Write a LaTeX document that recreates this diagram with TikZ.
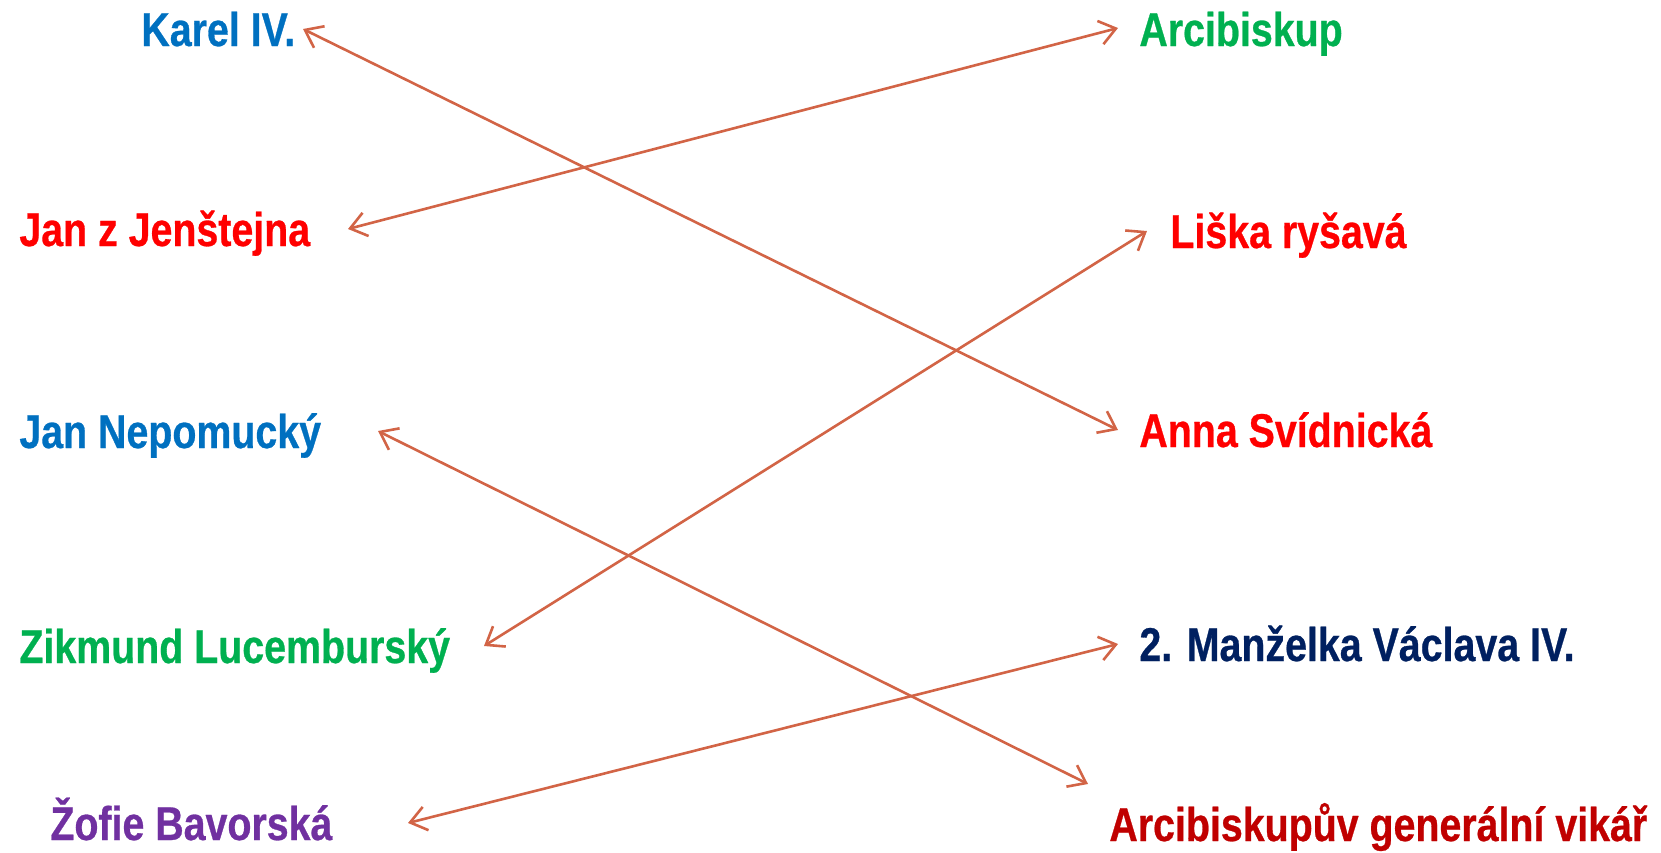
\documentclass[tikz,border=0pt]{standalone}
\usepackage{fontspec}
\setmainfont[FakeStretch=0.83,BoldFeatures={FakeBold=0.6}]{Liberation Sans}
\usetikzlibrary{arrows.meta}
\definecolor{kblue}{RGB}{0,112,192}
\definecolor{kred}{RGB}{255,0,0}
\definecolor{kgreen}{RGB}{0,176,80}
\definecolor{kpurple}{RGB}{112,48,160}
\definecolor{knavy}{RGB}{0,32,96}
\definecolor{kdarkred}{RGB}{192,0,0}
\definecolor{klink}{RGB}{210,100,70}
\begin{document}
\begin{tikzpicture}[x=0.5pt,y=-0.5pt,
    person/.style={anchor=base west,inner sep=0pt,text height=17pt,text depth=0pt,
      font=\fontsize{23.7pt}{28pt}\selectfont\bfseries},
    link/.style={draw=klink,line width=1.3pt,
      {Straight Barb[length=8pt,width=12pt]}-{Straight Barb[length=8pt,width=12pt]}}]
  \useasboundingbox (0,0) rectangle (1661,852);
      \node[person,kblue] (karel) at (141,46) {Karel IV.};
      \node[person,kred] (jenstejn) at (19,246) {Jan z Jenštejna};
      \node[person,kblue] (nepomuk) at (19,448) {Jan Nepomucký};
      \node[person,kgreen] (zikmund) at (19,663) {Zikmund Lucemburský};
      \node[person,kpurple] (zofie) at (50,840) {Žofie Bavorská};
      \node[person,kgreen] (arcibiskup) at (1139,46) {Arcibiskup};
      \node[person,kred] (liska) at (1170,248) {Liška ryšavá};
      \node[person,kred] (anna) at (1139,447) {Anna Svídnická};
      \node[person,knavy] (manzelka) at (1139,661) {2. Manželka Václava IV.};
      \node[person,kdarkred] (vikar) at (1109,841) {Arcibiskupův generální vikář};
      \draw[link] ([xshift=81pt]karel.west) -- ([xshift=-10.5pt]anna.west);
      \draw[link] ([xshift=164.5pt]jenstejn.west) -- ([xshift=-10.5pt,yshift=0.5pt]arcibiskup.west);
      \draw[link] ([xshift=232.5pt]zikmund.west) -- ([xshift=-11.5pt]liska.west);
      \draw[link] ([xshift=179.5pt]nepomuk.west) -- ([xshift=-10.5pt,yshift=20pt]vikar.west);
      \draw[link] ([xshift=179pt]zofie.west) -- ([xshift=-10.5pt]manzelka.west);
    \end{tikzpicture}
\end{document}
